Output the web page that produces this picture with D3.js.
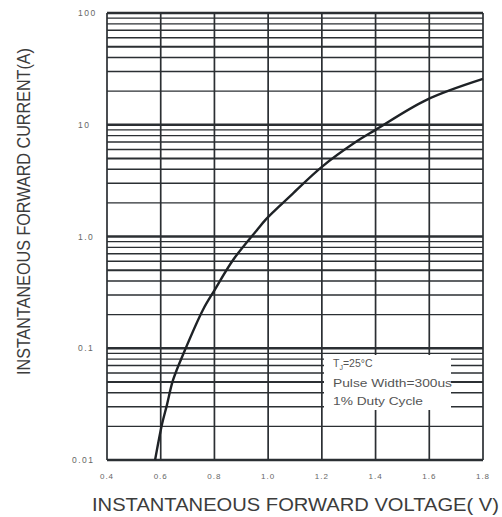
<!DOCTYPE html>
<html>
<head>
<meta charset="utf-8">
<script src="https://cdn.jsdelivr.net/npm/d3@7"></script>
<style>
  body { margin: 0; background: #fff; }
  svg { display: block; font-family: "Liberation Sans", Arial, sans-serif; }
</style>
</head>
<body>
<div id="chart"></div>
<script>
// forward voltage (V) vs instantaneous forward current (A)
const voltage = [0.579, 0.605, 0.623, 0.646, 0.69, 0.757, 0.80, 0.87, 0.958, 0.99, 1.04, 1.09, 1.20, 1.33, 1.40, 1.59, 1.80];
const current = [0.01, 0.021, 0.031, 0.052, 0.096, 0.22, 0.33, 0.62, 1.14, 1.41, 1.85, 2.4, 4.2, 7.1, 9.0, 16.7, 25.7];

const xTicks = [0.4, 0.6, 0.8, 1.0, 1.2, 1.4, 1.6, 1.8];
const xTickLabels = ["0.4", "0.6", "0.8", "1.0", "1.2", "1.4", "1.6", "1.8"];
const yTicks = [0.01, 0.1, 1, 10, 100];
const yTickLabels = ["0.01", "0.1", "1.0", "10", "100"];
const legendLines = ["=25\u00B0C", "Pulse Width=300us", "1% Duty Cycle"];

const width = 502, height = 517;
const plotL = 107, plotR = 483, plotT = 13, plotB = 460;

const svg = d3.select("#chart")
    .append("svg")
    .attr("width", width)
    .attr("height", height);

const x = d3.scaleLinear().domain([0.4, 1.8]).range([plotL, plotR]);
const y = d3.scaleLog().domain([0.01, 100]).range([plotB, plotT]);

// minor log lines 2..9 in each decade
let minor = [];
yTicks.slice(0, -1).forEach(function(d) {
    for (let k = 2; k <= 9; k++) minor.push({v: d * k, k: k});
});

const grid = svg.append("g").attr("stroke", "#2b2f33").attr("fill", "none");

grid.selectAll(".hminor")
    .data(minor)
    .enter().append("line")
    .attr("x1", plotL).attr("x2", plotR)
    .attr("y1", function(d) { return y(d.v); })
    .attr("y2", function(d) { return y(d.v); })
    .attr("stroke-width", function(d) { return d.k === 5 ? 2 : 1.4; });

grid.selectAll(".hmajor")
    .data(yTicks)
    .enter().append("line")
    .attr("x1", plotL).attr("x2", plotR)
    .attr("y1", function(d) { return y(d); })
    .attr("y2", function(d) { return y(d); })
    .attr("stroke-width", 2.4);

grid.selectAll(".vline")
    .data(xTicks)
    .enter().append("line")
    .attr("y1", plotT).attr("y2", plotB)
    .attr("x1", function(d) { return x(d); })
    .attr("x2", function(d) { return x(d); })
    .attr("stroke-width", 1.7);

// legend box knocks out the grid
const legend = svg.append("g");
legend.append("rect")
    .attr("x", 324).attr("y", 355)
    .attr("width", 127).attr("height", 55)
    .attr("fill", "#fff");

const lt = legend.append("text")
    .attr("x", 333).attr("y", 367)
    .attr("font-size", 10.5)
    .attr("fill", "#555");
lt.append("tspan").text("T");
lt.append("tspan").attr("font-size", 7).attr("dy", 3).text("J");
lt.append("tspan").attr("dy", -3).text(legendLines[0]);

legend.append("text")
    .attr("x", 333).attr("y", 387)
    .attr("font-size", 10.5)
    .attr("fill", "#555")
    .attr("textLength", 119)
    .attr("lengthAdjust", "spacingAndGlyphs")
    .text(legendLines[1]);

legend.append("text")
    .attr("x", 333).attr("y", 405)
    .attr("font-size", 10.5)
    .attr("fill", "#555")
    .attr("textLength", 90)
    .attr("lengthAdjust", "spacingAndGlyphs")
    .text(legendLines[2]);

// curve
const pts = voltage.map(function(v, i) { return [v, current[i]]; });
const line = d3.line()
    .curve(d3.curveCatmullRom.alpha(0.5))
    .x(function(d) { return x(d[0]); })
    .y(function(d) { return y(d[1]); });

svg.append("path")
    .datum(pts)
    .attr("d", line)
    .attr("fill", "none")
    .attr("stroke", "#1e2226")
    .attr("stroke-width", 2.4)
    .attr("stroke-linejoin", "round");

// tick labels
svg.append("g").selectAll("text")
    .data(xTicks)
    .enter().append("text")
    .attr("x", function(d) { return x(d); })
    .attr("y", 479)
    .attr("text-anchor", "middle")
    .attr("font-size", 8)
    .attr("letter-spacing", 1)
    .attr("fill", "#666")
    .text(function(d, i) { return xTickLabels[i]; });

svg.append("g").selectAll("text")
    .data(yTicks)
    .enter().append("text")
    .attr("x", function(d) { return d === 0.01 ? 72 : 78; })
    .attr("y", function(d) { return y(d) + 3; })
    .attr("font-size", 8.5)
    .attr("letter-spacing", 1.5)
    .attr("fill", "#666")
    .text(function(d, i) { return yTickLabels[i]; });

// axis titles
svg.append("text")
    .attr("x", 92).attr("y", 511)
    .attr("font-size", 19)
    .attr("fill", "#3c3c3c")
    .attr("textLength", 407)
    .attr("lengthAdjust", "spacingAndGlyphs")
    .text("INSTANTANEOUS FORWARD VOLTAGE( V)");

svg.append("text")
    .attr("transform", "translate(30,375) rotate(-90)")
    .attr("font-size", 18)
    .attr("fill", "#3c3c3c")
    .attr("textLength", 327)
    .attr("lengthAdjust", "spacingAndGlyphs")
    .text("INSTANTANEOUS FORWARD CURRENT(A)");
</script>
</body>
</html>
